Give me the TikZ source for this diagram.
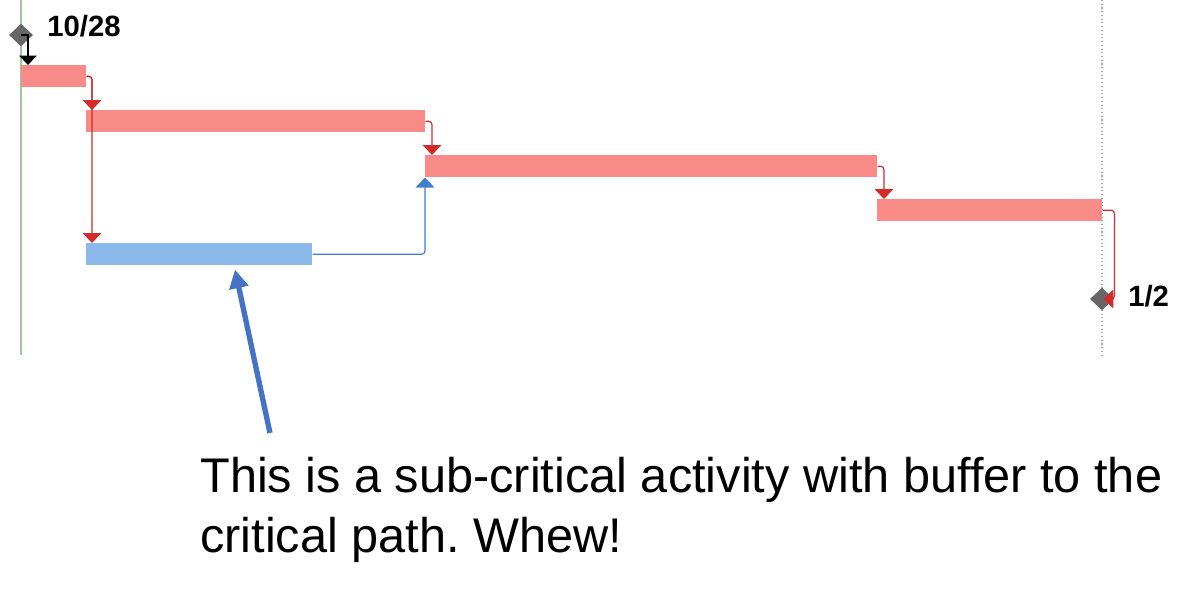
\documentclass[tikz,border=0pt]{standalone}
\usepackage{fontspec}
\setmainfont{Liberation Sans}
\usetikzlibrary{arrows.meta,calc,shapes.geometric}
\frenchspacing
\definecolor{barred}{HTML}{F88B88}
\definecolor{linkred}{HTML}{D42A2A}
\definecolor{barblue}{HTML}{8BB9E9}
\definecolor{linkblue}{HTML}{3F7FCB}
\definecolor{callout}{HTML}{4472C4}
\definecolor{dgray}{HTML}{666666}
\definecolor{gline}{HTML}{9CC89C}
\tikzset{
  redbar/.style={rectangle, fill=barred, draw=none, inner sep=0pt, minimum height=16.5pt, anchor=north west},
  bluebar/.style={rectangle, fill=barblue, draw=none, inner sep=0pt, minimum height=16.5pt, anchor=north west},
  redlink/.style={draw=linkred, line width=0.9pt, rounded corners=2.5pt, -{Triangle[width=14pt,length=7.5pt]}},
  bluelink/.style={draw=linkblue, line width=0.9pt, rounded corners=2.5pt, -{Triangle[width=14pt,length=7.5pt]}},
  blacklink/.style={draw=black, line width=1pt, -{Triangle[width=13pt,length=7pt]}},
  milestone/.style={diamond, fill=dgray, draw=none, inner sep=0pt, minimum width=18pt, minimum height=17pt},
  datelabel/.style={font=\bfseries\fontsize{22}{24}\selectfont, anchor=west, inner sep=0pt},
  note/.style={font=\fontsize{36.5}{40}\selectfont, anchor=base west, inner sep=0pt}
}
\begin{document}
\begin{tikzpicture}[x=0.75pt,y=-0.75pt]
\useasboundingbox (0,0) rectangle (1200,590);
% timeline lines
\coordinate (gtop) at (21,0);
\coordinate (gbot) at (21,355);
\draw[gline, line width=0.9pt] (gtop) -- (gbot);
\coordinate (dtop) at (1102,0);
\coordinate (dbot) at (1102,355);
\draw[gray!70, line width=0.8pt, dotted] (dtop) -- (dbot);
% bars
\node[redbar, minimum width=48.75pt] (b1) at (21,65) {};
\node[redbar, minimum width=254.25pt] (b2) at (86,110) {};
\node[redbar, minimum width=339pt] (b3) at (425,155) {};
\node[redbar, minimum width=168.75pt] (b4) at (877,199) {};
\node[bluebar, minimum width=169.5pt] (bl) at (86,243) {};
% milestones
\node[milestone] (d1) at (21,35) {};
\node[datelabel] (l1) at (47,26) {10/28};
\node[milestone] (d2) at (1102,299) {};
\node[datelabel] (l2) at (1128,296) {1/2};
% links
\draw[blacklink] (d1.center) -| ($(b1.north west)+(7,0)$);
\draw[redlink] (b1.east) -| ($(b2.north west)+(6,0)$);
\draw[redlink] (b1.east) -| ($(bl.north west)+(6,0)$);
\draw[redlink] (b2.east) -| ($(b3.north west)+(7,0)$);
\draw[bluelink] (bl.east) -| (b3.south west);
\draw[redlink] (b3.east) -| ($(b4.north west)+(7,0)$);
\draw[redlink, shorten >=1pt] (b4.east) -- ++(12,0) |- (d2.center);
% callout
\coordinate (ctail) at (270,433);
\draw[callout, line width=4pt, -{Triangle[width=14pt,length=14pt]}] (ctail) -- ($(bl.south west)+(149,4)$);
\node[note] (t1) at (200,492) {This is a sub-critical activity with buffer to the};
\node[note] (t2) at (200,552) {critical path. Whew!};
\end{tikzpicture}
\end{document}
